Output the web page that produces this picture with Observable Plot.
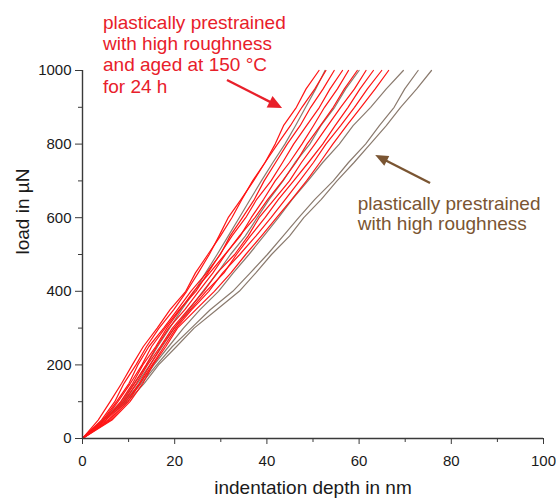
<!DOCTYPE html>
<html><head><meta charset="utf-8">
<script src="https://cdn.jsdelivr.net/npm/d3@7"></script>
<script src="https://cdn.jsdelivr.net/npm/@observablehq/plot@0.6"></script>
<style>body{margin:0;background:#fff}</style>
</head><body><div id="chart"></div>
<script>
// load levels in µN (shared by all curves)
const loads = [0,50,100,150,200,250,300,350,400,450,500,550,600,650,700,750,800,850,900,950,1000];

// indentation depth in nm at each load level: plastically prestrained + high roughness + aged 150 °C / 24 h
const redCurves = [
  [0,3.4,6.0,8.5,10.8,13.2,16.2,19.0,22.4,24.5,27.2,29.9,32.4,34.6,36.9,39.6,41.8,43.6,46.4,48.5,51.3],
  [0,4.1,7.0,9.0,11.6,13.9,16.6,19.8,22.6,25.1,27.5,29.6,31.6,34.4,37.1,39.6,42.3,45.1,47.6,50.4,52.8],
  [0,4.4,7.4,10.1,12.0,14.4,17.6,20.6,23.5,26.9,29.9,32.0,34.7,37.3,39.4,41.9,44.4,47.2,49.5,52.2,54.6],
  [0,4.7,7.7,10.4,12.9,15.0,17.9,21.0,24.6,27.2,29.8,32.4,35.4,37.8,40.9,43.4,45.8,48.6,51.4,53.7,56.4],
  [0,5.0,8.3,10.9,13.1,15.9,18.3,21.2,24.1,27.6,30.9,34.2,36.6,39.3,41.8,44.9,47.6,50.1,52.5,55.3,57.7],
  [0,5.1,8.7,11.3,13.8,16.1,18.7,22.2,25.2,28.3,31.0,34.0,37.4,40.2,43.4,46.3,48.7,51.6,54.4,56.8,59.6],
  [0,5.5,9.1,11.7,14.1,16.9,19.5,22.9,26.3,29.2,33.0,35.9,38.3,41.6,44.9,47.5,50.4,53.2,56.0,59.0,61.5],
  [0,5.8,9.5,12.3,14.7,17.1,19.9,23.4,26.8,30.7,33.4,36.4,39.6,42.5,45.8,49.0,52.1,54.8,57.6,60.2,63.1],
  [0,6.1,9.9,12.5,15.1,17.7,20.3,23.7,27.4,30.4,34.1,37.6,40.9,44.0,47.1,50.1,52.8,56.0,59.0,61.8,64.9],
  [0,6.4,10.3,13.1,15.3,18.1,20.6,24.6,28.6,32.2,35.4,38.8,42.1,45.4,48.6,51.5,54.3,57.3,60.4,63.5,66.4]
];

// plastically prestrained + high roughness
const grayCurves = [
  [0,4.3,8.4,11.2,13.9,16.3,18.9,21.5,24.3,26.7,29.2,31.6,34.0,36.4,38.8,41.3,43.9,46.2,48.4,50.6,52.6],
  [0,4.6,8.8,11.9,14.6,17.3,19.9,23.1,26.1,29.3,32.1,35.3,37.9,40.5,43.5,46.1,49.3,51.7,54.7,57.1,60.0],
  [0,4.5,9.0,12.5,15.5,18.7,21.9,25.5,29.5,32.7,36.1,39.3,42.5,45.5,48.9,52.1,55.7,58.7,62.5,65.9,69.6],
  [0,4.3,9.3,12.8,16.1,19.5,23.6,27.7,32.6,36.4,40.1,43.5,46.9,50.4,54.4,57.7,61.4,64.4,67.6,69.9,72.8],
  [0,4.5,9.8,13.4,16.5,20.4,24.2,29.1,34.0,37.6,41.0,44.9,48.0,51.8,55.2,58.9,62.4,65.9,69.0,72.5,75.7]
];

const xMajorTicks = [0,20,40,60,80,100];
const xMinorTicks = [10,30,50,70,90];
const yMajorTicks = [0,200,400,600,800,1000];
const yMinorTicks = [100,300,500,700,900];

const redLabel = ["plastically prestrained","with high roughness","and aged at 150 °C","for 24 h"];
const grayLabel = ["plastically prestrained","with high roughness"];
const xTitle = "indentation depth in nm";
const yTitle = "load in µN";

const RED = "#ff1414";
const RED_TEXT = "#e8202a";
const GRAY = "#8a7a6e";
const BROWN = "#7a5532";
const AXIS = "#3a3a3a";
const FONT = "'Liberation Sans', Arial, sans-serif";

function toRows(curves, group) {
  return curves.flatMap((c, k) => c.map((d, i) => ({id: group + k, group, depth: d, load: loads[i]})));
}
const redRows = toRows(redCurves, "red");
const grayRows = toRows(grayCurves, "gray");

// filled-head arrow drawn through the plot's scales
function filledArrow(from, to, color, len, half, width) {
  return (index, scales) => {
    const x1 = scales.x(from[0]), y1 = scales.y(from[1]);
    const x2 = scales.x(to[0]), y2 = scales.y(to[1]);
    const a = Math.atan2(y2 - y1, x2 - x1);
    const bx = x2 - len * Math.cos(a), by = y2 - len * Math.sin(a);
    const px = -Math.sin(a) * half, py = Math.cos(a) * half;
    const g = d3.create("svg:g");
    g.append("line").attr("x1", x1).attr("y1", y1).attr("x2", bx + Math.cos(a)).attr("y2", by + Math.sin(a))
      .attr("stroke", color).attr("stroke-width", width);
    g.append("polygon").attr("points", `${x2},${y2} ${bx + px},${by + py} ${bx - px},${by - py}`).attr("fill", color);
    return g.node();
  };
}

const chart = Plot.plot({
  width: 556,
  height: 498,
  marginLeft: 82,
  marginRight: 13,
  marginTop: 70,
  marginBottom: 60,
  style: {fontFamily: FONT, background: "white", overflow: "visible"},
  x: {domain: [0, 100]},
  y: {domain: [0, 1000]},
  marks: [
    Plot.line(grayRows, {x: "depth", y: "load", z: "id", stroke: GRAY, strokeWidth: 1.2}),
    Plot.line(redRows, {x: "depth", y: "load", z: "id", stroke: RED, strokeWidth: 1.2}),
    Plot.axisX(xMajorTicks, {tickSize: 6, tickPadding: 11, fontSize: 15, tickFormat: d => String(d), stroke: AXIS, fill: "#1a1a1a", label: null}),
    Plot.axisX(xMinorTicks, {tickSize: 4, tickFormat: () => "", stroke: AXIS, label: null}),
    Plot.axisY(yMajorTicks, {tickSize: 7, tickPadding: 4, fontSize: 15, tickFormat: d => String(d), stroke: AXIS, fill: "#1a1a1a", label: null}),
    Plot.axisY(yMinorTicks, {tickSize: 4, tickFormat: () => "", stroke: AXIS, label: null}),
    Plot.ruleY([0], {stroke: AXIS, strokeWidth: 1.4}),
    Plot.ruleX([0], {stroke: AXIS, strokeWidth: 1.4}),
    Plot.text([xTitle], {frameAnchor: "bottom", dy: 49, lineAnchor: "middle", fontSize: 19, fill: "#1a1a1a"}),
    Plot.text([yTitle], {frameAnchor: "left", dx: -60, rotate: -90, lineAnchor: "middle", fontSize: 19, fill: "#1a1a1a"}),
    Plot.text([redLabel.join("\n")], {frameAnchor: "top-left", dx: 20.5, dy: -56.7, textAnchor: "start", lineAnchor: "top", lineHeight: 1.12, fontSize: 19, fill: RED_TEXT}),
    Plot.text([grayLabel.join("\n")], {frameAnchor: "top-left", dx: 275.3, dy: 124.3, textAnchor: "start", lineAnchor: "top", lineHeight: 1.09, fontSize: 19, fill: BROWN}),
    filledArrow([31.45, 972.8], [43.4, 896.7], "#e8202a", 14, 6.5, 2.4),
    filledArrow([75.5, 692.9], [63.6, 769], BROWN, 13, 5.5, 2.4)
  ]
});
document.getElementById("chart").appendChild(chart);
</script>
</body></html>
